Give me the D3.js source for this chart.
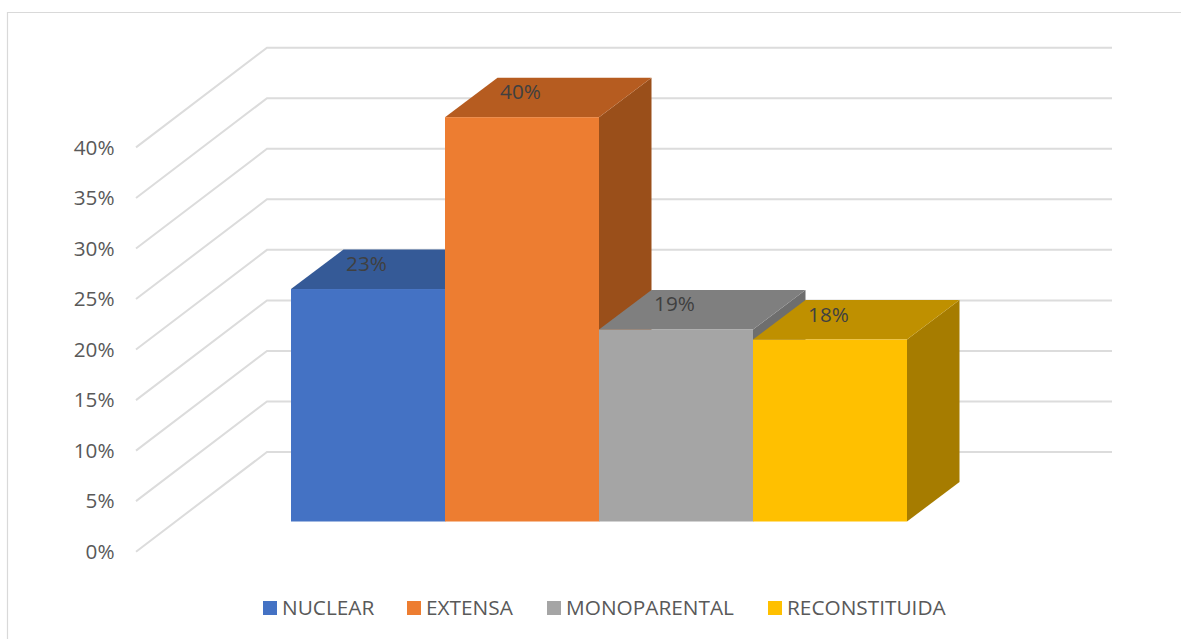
<!DOCTYPE html>
<html>
<head>
<meta charset="utf-8">
<style>
    html, body { margin: 0; padding: 0; background: #fff; }
    svg { display: block; }
    text { font-family: "Open Sans", sans-serif; }
</style>
</head>
<body>
<svg width="1181" height="639"></svg>
<script src="https://cdn.jsdelivr.net/npm/d3@7"></script>
<script>
    // data
    var categories = ["NUCLEAR", "EXTENSA", "MONOPARENTAL", "RECONSTITUIDA"]
    var values = [23, 40, 19, 18]
    var valueLabels = ["23%", "40%", "19%", "18%"]
    var yTicks = [0, 5, 10, 15, 20, 25, 30, 35, 40]
    var frontColors = ["#4472C4", "#ED7D31", "#A5A5A5", "#FFC000"]
    var topColors = ["#355A97", "#B65C20", "#7F7F7F", "#BF9000"]
    var sideColors = ["#2B4A7E", "#9A4F1A", "#6E6E6E", "#A67C00"]
    var legendX = [263, 407, 547, 768]

    var svg = d3.select("svg")

    // chart frame (only top and left show)
    svg.append("path")
        .attr("d", "M1181,12.5H7.5V639")
        .attr("fill", "none")
        .attr("stroke", "#d9d9d9")
        .attr("stroke-width", 1.2)

    // scale of the back wall, the other planes are offsets of it
    var yBack = d3.scaleLinear().domain([0, 40]).range([452, 47.7])
    var wallDx = 131, wallDy = 99.7
    var barOffset = 69.5 // back wall to front of bar
    var barDx = 52.5, barDy = 39.5

    var x = d3.scaleBand().domain(categories).range([291, 907]).padding(0)

    // grid lines
    svg.append("g")
        .selectAll("path")
        .data(yTicks)
        .enter().append("path")
        .attr("fill", "none")
        .attr("stroke", "#dcdcdc")
        .attr("stroke-width", 2)
        .attr("d", function (d) {
            var y0 = yBack(d)
            return "M" + (267 - wallDx) + "," + (y0 + wallDy) + "L267," + y0 + "H1112"
        })

    // y labels, the axis sits on the front edge of the floor
    var yFront = d3.scaleLinear().domain(yBack.domain()).range(yBack.range().map(function (r) { return r + wallDy }))
    var axis = d3.axisLeft(yFront)
        .tickValues(yTicks)
        .tickSize(0)
        .tickPadding(0)
        .tickFormat(function (d) { return d + "%" })
    var axisG = svg.append("g")
        .attr("transform", "translate(114.5,0)")
        .call(axis)
    axisG.select(".domain").remove()
    axisG.selectAll("text")
        .attr("fill", "#595959")
        .style("font-size", "20.7px")
        .style("font-family", "'Open Sans', sans-serif")

    // bars: left to right so the next bar covers the side of the one before
    var bars = svg.append("g")
        .selectAll("g")
        .data(categories)
        .enter().append("g")

    function barTop(i) { return yBack(values[i]) + barOffset }
    var floorY = yBack(0) + barOffset

    bars.append("polygon")
        .attr("fill", function (d, i) { return sideColors[i] })
        .attr("points", function (d, i) {
            var r = x(d) + x.bandwidth(), t = barTop(i)
            return [[r, t], [r + barDx, t - barDy], [r + barDx, floorY - barDy], [r, floorY]].join(" ")
        })
    bars.append("polygon")
        .attr("fill", function (d, i) { return topColors[i] })
        .attr("points", function (d, i) {
            var l = x(d), r = l + x.bandwidth(), t = barTop(i)
            return [[l, t], [l + barDx, t - barDy], [r + barDx, t - barDy], [r, t]].join(" ")
        })
    bars.append("rect")
        .attr("fill", function (d, i) { return frontColors[i] })
        .attr("x", function (d) { return x(d) })
        .attr("width", x.bandwidth())
        .attr("y", function (d, i) { return barTop(i) })
        .attr("height", function (d, i) { return floorY - barTop(i) })

    // value labels on the bar tops
    svg.append("g")
        .selectAll("text")
        .data(categories)
        .enter().append("text")
        .attr("x", function (d) { return x(d) + x.bandwidth() / 2 - 1.5 })
        .attr("y", function (d, i) { return barTop(i) - 18 })
        .attr("text-anchor", "middle")
        .attr("fill", "#404040")
        .style("font-size", "20.7px")
        .text(function (d, i) { return valueLabels[i] })

    // legend
    var legend = svg.append("g")
        .selectAll("g")
        .data(categories)
        .enter().append("g")
        .attr("transform", function (d, i) { return "translate(" + legendX[i] + ",601)" })
    legend.append("rect")
        .attr("width", 14)
        .attr("height", 14)
        .attr("fill", function (d, i) { return frontColors[i] })
    legend.append("text")
        .attr("x", 19)
        .attr("y", 14)
        .attr("fill", "#595959")
        .style("font-size", "20.8px")
        .text(function (d) { return d })
</script>
</body>
</html>
